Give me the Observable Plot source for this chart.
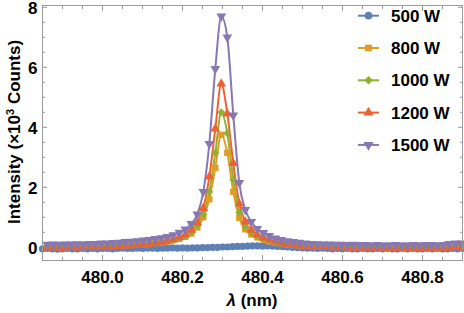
<!DOCTYPE html>
<html><head><meta charset="utf-8">
<script src="https://cdn.jsdelivr.net/npm/d3@7"></script>
<script src="https://cdn.jsdelivr.net/npm/@observablehq/plot@0.6"></script>
<style>
body{margin:0;background:#fff;}
svg{display:block;font-family:"Liberation Sans",Arial,sans-serif;}
</style>
</head><body><div id="chart"></div>
<script>
// ---- data ----
const seriesNames = ["500 W", "800 W", "1000 W", "1200 W", "1500 W"];
const seriesColors = ["#5E81B5", "#E19C24", "#8FB032", "#EB6235", "#8778B3"];
const xTicks = [480.0, 480.2, 480.4, 480.6, 480.8];
const yTicks = [0, 2, 4, 6, 8];
// wavelength sampling (nm)
const gridStart = 479.862, gridStep = 0.015;   // 800-1500 W spectra
const blueStart = 479.85, blueStep = 0.0125;    // 500 W spectrum
// intensities (x10^3 counts)
const i500 = [-0.05,-0.04,-0.05,-0.06,-0.05,-0.04,-0.05,-0.05,-0.04,-0.05,
  -0.04,-0.05,-0.04,-0.04,-0.05,-0.04,-0.03,-0.04,-0.04,-0.03,
  -0.04,-0.03,-0.03,-0.04,-0.03,-0.03,-0.02,-0.03,-0.02,-0.03,
  -0.02,-0.02,-0.01,-0.01,0.0,0.0,0.01,0.01,0.02,0.03,
  0.03,0.04,0.05,0.05,0.04,0.05,0.04,0.03,0.02,0.01,0.0,
  -0.01,-0.02,-0.03,-0.03,-0.04,-0.03,-0.04,-0.05,-0.04,-0.05,
  -0.04,-0.05,-0.05,-0.04,-0.05,-0.05,-0.04,-0.05,-0.04,-0.05,
  -0.05,-0.04,-0.05,-0.04,-0.05,-0.05,-0.04,-0.05,-0.04,-0.05,
  -0.05,-0.04,-0.05,-0.04];
const i800 = [0.02,0.03,0.02,0.03,0.03,0.03,0.04,0.04,0.04,0.05,0.05,0.06,0.07,0.07,
  0.08,0.09,0.10,0.12,0.14,0.16,0.19,0.23,0.28,0.35,0.46,0.66,1.00,1.60,2.65,
  3.75,
  3.15,1.85,0.98,0.60,0.43,0.33,0.26,0.20,0.16,0.13,0.10,0.08,0.07,0.06,0.05,
  0.05,0.04,0.04,0.04,0.03,0.04,0.03,0.03,0.04,0.03,0.03,0.02,0.03,0.03,0.02,
  0.03,0.02,0.03,0.03,0.02,0.03,0.03,0.04,0.04,0.04];
const i1000 = [0.04,0.05,0.04,0.05,0.05,0.06,0.05,0.06,0.06,0.07,0.07,0.08,0.09,0.10,
  0.10,0.11,0.12,0.14,0.16,0.18,0.21,0.25,0.30,0.38,0.50,0.72,1.10,1.85,3.15,
  4.50,
  3.80,2.25,1.15,0.68,0.48,0.36,0.28,0.22,0.17,0.14,0.11,0.09,0.08,0.07,0.06,
  0.06,0.05,0.05,0.05,0.04,0.05,0.04,0.04,0.05,0.04,0.04,0.03,0.04,0.04,0.03,
  0.04,0.03,0.04,0.04,0.03,0.04,0.04,0.05,0.05,0.05];
const i1200 = [-0.02,0.00,-0.02,-0.01,0.00,-0.01,0.00,0.01,0.00,0.01,0.02,0.03,0.04,0.05,
  0.06,0.07,0.09,0.11,0.14,0.17,0.21,0.26,0.33,0.42,0.58,0.82,1.30,2.35,3.95,
  5.45,
  4.45,2.80,1.45,0.85,0.58,0.42,0.32,0.25,0.19,0.14,0.10,0.07,0.05,0.03,0.02,
  0.01,0.00,0.00,-0.01,0.00,-0.01,-0.02,-0.01,-0.02,-0.02,-0.01,-0.02,-0.03,-0.02,-0.02,
  -0.03,-0.02,-0.03,-0.02,-0.02,-0.03,-0.02,-0.01,0.00,-0.01];
const i1500 = [0.09,0.10,0.09,0.10,0.10,0.11,0.10,0.12,0.12,0.13,0.13,0.15,0.16,0.18,
  0.19,0.21,0.23,0.25,0.28,0.31,0.35,0.41,0.49,0.60,0.78,1.10,1.85,3.45,5.95,
  7.70,
  7.00,4.40,2.15,1.25,0.85,0.62,0.48,0.38,0.30,0.25,0.21,0.18,0.16,0.13,0.12,
  0.11,0.10,0.10,0.09,0.09,0.08,0.09,0.08,0.08,0.07,0.08,0.07,0.07,0.08,0.07,
  0.07,0.08,0.07,0.08,0.08,0.07,0.08,0.12,0.13,0.13];

// ---- build tables ----
const triangleDown = {
  draw(context, size) {
    const s3 = Math.sqrt(3);
    const y = -Math.sqrt(size / (s3 * 3));
    context.moveTo(0, -y * 2);
    context.lineTo(-s3 * y, y);
    context.lineTo(s3 * y, y);
    context.closePath();
  }
};
const symbols = ["circle", "square", "diamond2", "triangle", triangleDown];
const d3Symbols = [d3.symbolCircle, d3.symbolSquare, d3.symbolDiamond2, d3.symbolTriangle, triangleDown];
const allValues = [i500, i800, i1000, i1200, i1500];
const tables = allValues.map((vals, s) => vals.map((v, i) => ({
  wl: s === 0 ? blueStart + i * blueStep : gridStart + i * gridStep,
  v,
  series: seriesNames[s]
})));

const xMinor = d3.range(0, 22).map(i => 479.85 + i * 0.05).filter(v => !xTicks.some(t => Math.abs(t - v) < 1e-6));
const yMinor = d3.range(0, 17).map(i => i * 0.5).filter(v => !yTicks.includes(v));
const frameColor = "#9a9a9a";

const marks = [];
tables.forEach((t, s) => marks.push(Plot.line(t, {x: "wl", y: "v", stroke: seriesColors[s], strokeWidth: 2, curve: "monotone-x"})));
tables.forEach((t, s) => marks.push(Plot.dot(t, {x: "wl", y: "v", fill: seriesColors[s], stroke: "none", r: 3.6, symbol: symbols[s]})));

const inward = (anchor, ticks, size) => (anchor === "bottom" || anchor === "top")
  ? Plot.axisX({anchor, ticks, tickSize: -size, tickFormat: () => "", label: null, stroke: frameColor})
  : Plot.axisY({anchor, ticks, tickSize: -size, tickFormat: () => "", label: null, stroke: frameColor});

const plot = Plot.plot({
  width: 464, height: 313,
  marginLeft: 42, marginRight: 2, marginTop: 5, marginBottom: 53,
  x: {domain: [479.85, 480.9]},
  y: {domain: [-0.44, 8.06]},
  style: {background: "#fff", fontFamily: "'Liberation Sans', Arial, sans-serif"},
  marks: [
    inward("bottom", xTicks, 5), inward("bottom", xMinor, 3),
    inward("top", xTicks, 5), inward("top", xMinor, 3),
    inward("left", yTicks, 5), inward("left", yMinor, 3),
    inward("right", yTicks, 5), inward("right", yMinor, 3),
    Plot.axisX({anchor: "bottom", ticks: xTicks, tickSize: 0, tickPadding: 10, tickFormat: d => d.toFixed(1), label: null, fontSize: 17, fontWeight: "bold", fill: "#000"}),
    Plot.axisY({anchor: "left", ticks: yTicks, tickSize: 0, tickPadding: 5, tickFormat: d => String(d), label: null, fontSize: 17, fontWeight: "bold", fill: "#000", dy: 1}),
    ...marks,
    Plot.frame({stroke: frameColor})
  ]
});

const svg = d3.select(plot);
const yl = svg.append("text")
  .attr("transform", "translate(20,132) rotate(-90)")
  .attr("text-anchor", "middle")
  .attr("font-size", 17).attr("font-weight", "bold").attr("fill", "#000");
yl.append("tspan").text("Intensity (\u00d710");
yl.append("tspan").attr("dy", -6).attr("font-size", 11).text("3");
yl.append("tspan").attr("dy", 6).text(" Counts)");

const xl = svg.append("text")
  .attr("x", 252).attr("y", 306)
  .attr("text-anchor", "middle")
  .attr("font-size", 17).attr("font-weight", "bold").attr("fill", "#000");
xl.append("tspan").attr("font-style", "italic").text("\u03bb");
xl.append("tspan").text(" (nm)");

const lg = svg.append("g");
seriesNames.forEach((name, i) => {
  const y = 15.7 + i * 32.3;
  lg.append("line").attr("x1", 358).attr("x2", 379).attr("y1", y).attr("y2", y)
    .attr("stroke", seriesColors[i]).attr("stroke-width", 2);
  lg.append("path").attr("d", d3.symbol(d3Symbols[i], 46)())
    .attr("transform", `translate(368.5,${y})`).attr("fill", seriesColors[i]);
  lg.append("text").attr("x", 391).attr("y", y).attr("dy", "0.35em")
    .attr("text-anchor", "start")
    .attr("font-size", 17).attr("font-weight", "bold").attr("fill", "#000").text(name);
});

document.getElementById("chart").appendChild(plot);
</script>
</body></html>
